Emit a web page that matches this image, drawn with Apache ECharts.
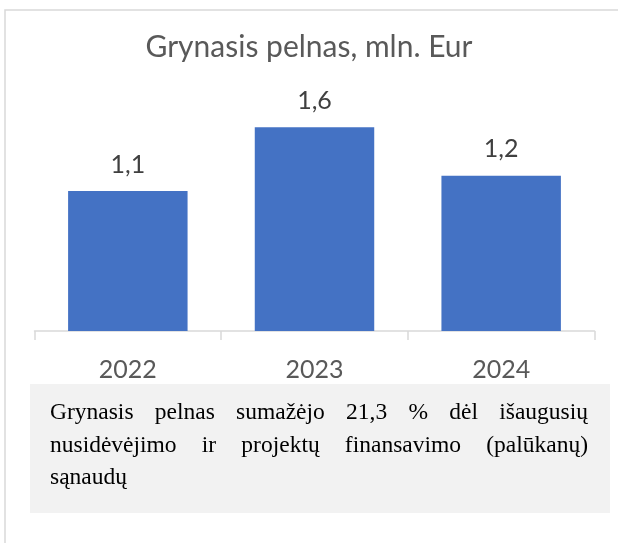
<!DOCTYPE html>
<html>
<head>
<meta charset="utf-8">
<script src="https://cdn.jsdelivr.net/npm/echarts@6/dist/echarts.min.js"></script>
<style>
  html, body { margin: 0; padding: 0; background: #fff; }
  #chart { width: 618px; height: 543px; }
</style>
</head>
<body>
<div id="chart"></div>
<script>
// data
const years = ['2022', '2023', '2024']
const profit = [1.1, 1.6, 1.22]
const noteLines = [
  'Grynasis pelnas sumažėjo 21,3 % dėl išaugusių',
  'nusidėvėjimo ir projektų finansavimo (palūkanų)',
  'sąnaudų'
]

const chart = echarts.init(document.getElementById('chart'))

// justified note text, word by word
const noteFont = '23.5px "Liberation Serif"'
const ctx = document.createElement('canvas').getContext('2d')
ctx.font = noteFont
const noteLeft = 50
const noteRight = 588
const noteTop = 413
const noteStep = 32.5
const noteTexts = []
noteLines.forEach(function (line, i) {
  const words = line.split(' ')
  const widths = words.map(w => ctx.measureText(w).width)
  const total = widths.reduce((a, b) => a + b, 0)
  const last = i === noteLines.length - 1
  const gap = (!last && words.length > 1) ? (noteRight - noteLeft - total) / (words.length - 1) : ctx.measureText(' ').width
  let x = noteLeft
  words.forEach(function (w, j) {
    noteTexts.push({
      type: 'text',
      x: x,
      y: noteTop + i * noteStep,
      style: {
        text: w,
        font: noteFont,
        fill: '#000000',
        textAlign: 'left',
        textVerticalAlign: 'middle'
      }
    })
    x += widths[j] + gap
  })
})

const option = {
  backgroundColor: '#ffffff',
  animation: false,
  title: {
    text: 'Grynasis pelnas, mln. Eur',
    left: 'center',
    top: 32,
    padding: [0, 0, 0, 10],
    textStyle: {
      fontFamily: 'Lato',
      fontSize: 30,
      fontWeight: 'normal',
      color: '#595959'
    }
  },
  grid: {
    left: 34.5,
    right: 23.5,
    top: 76.4,
    bottom: 543 - 331
  },
  xAxis: {
    type: 'category',
    data: years,
    axisLine: { lineStyle: { color: '#d9d9d9', width: 1.5 } },
    axisTick: { show: true, length: 9, lineStyle: { color: '#d9d9d9', width: 1.5 } },
    axisLabel: {
      margin: 26,
      fontFamily: 'Lato',
      fontSize: 25,
      color: '#595959'
    }
  },
  yAxis: {
    type: 'value',
    min: 0,
    max: 2,
    show: false,
    splitLine: { show: false }
  },
  series: [
    {
      type: 'bar',
      data: profit,
      barCategoryGap: '36%',
      itemStyle: { color: '#4472c4' },
      label: {
        show: true,
        position: 'top',
        distance: 14,
        fontFamily: 'Lato',
        fontSize: 25,
        color: '#404040',
        formatter: p => p.value.toFixed(1).replace('.', ',')
      }
    }
  ],
  graphic: [
    {
      type: 'rect',
      shape: { x: 5, y: 10, width: 700, height: 600 },
      style: { fill: 'none', stroke: '#d9d9d9', lineWidth: 1.5 },
      silent: true
    },
    {
      type: 'rect',
      shape: { x: 30, y: 384, width: 580, height: 129 },
      style: { fill: '#f2f2f2' },
      silent: true
    }
  ].concat(noteTexts)
}

chart.setOption(option)
</script>
</body>
</html>
